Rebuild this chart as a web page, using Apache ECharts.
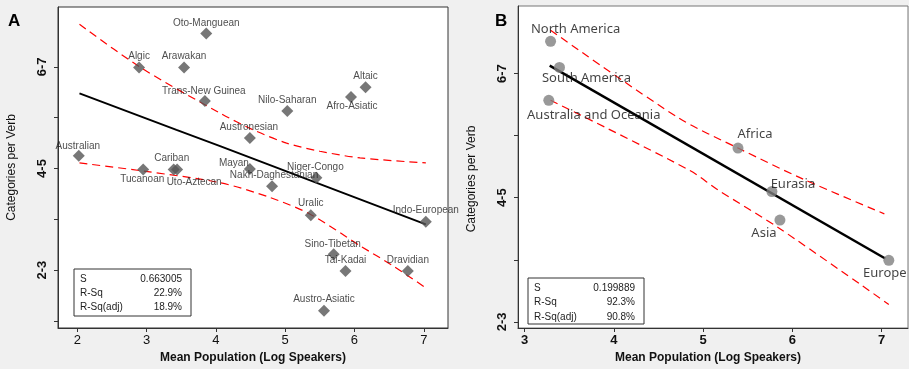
<!DOCTYPE html>
<html>
<head>
<meta charset="utf-8">
<script src="https://cdn.jsdelivr.net/npm/echarts@6/dist/echarts.min.js"></script>
<style>
  html, body { margin: 0; padding: 0; background: #f0f0f0; }
  #chart { width: 909px; height: 369px; }
</style>
</head>
<body>
<div id="chart"></div>
<script>
// panel A: language families
var namesA = ['Oto-Manguean','Algic','Arawakan','Trans-New Guinea','Australian','Tucanoan','Cariban','Uto-Aztecan','Mayan','Nakh-Daghestanian','Niger-Congo','Austronesian','Nilo-Saharan','Afro-Asiatic','Altaic','Uralic','Indo-European','Sino-Tibetan','Tai-Kadai','Dravidian','Austro-Asiatic'];
var popA = [3.86,2.89,3.54,3.84,2.02,2.95,3.39,3.44,4.49,4.81,5.45,4.49,5.03,5.95,6.16,5.37,7.03,5.70,5.87,6.77,5.56];
var catA = [6.66,5.99,5.99,5.33,4.25,3.98,3.98,3.98,3.99,3.65,3.82,4.60,5.13,5.41,5.60,3.08,2.95,2.31,1.98,1.98,1.20];
// label offsets (px) from each point
var offA = [[0,-10],[0,-11],[0,-11],[-1,-10],[-1,-10],[-1,10],[-2,-11],[17,13],[-16,-6],[2,-11],[-1,-10],[-1,-11],[0,-11],[1,9],[0,-11],[0,-12],[0,-12],[-1,-10],[0,-11],[0,-11],[0,-11]];

var fitA = [[2.03,5.48],[3.43,4.76],[4.06,4.44],[7.03,2.90]];
var upperA = [[2.03,6.84],[2.90,6.00],[4.06,5.09],[4.54,4.76],[5.02,4.50],[5.50,4.34],[6.08,4.21],[7.03,4.11]];
var lowerA = [[2.03,4.11],[2.95,3.95],[4.06,3.72],[4.78,3.43],[5.36,3.10],[6.08,2.48],[6.56,2.08],[7.03,1.65]];

// panel B: macro areas
var namesB = ['North America','South America','Australia and Oceania','Africa','Eurasia','Asia','Europe'];
var popB = [3.29,3.39,3.27,5.39,5.77,5.86,7.08];
var catB = [6.52,6.10,5.57,4.80,4.10,3.64,2.99];
var offB = [[25,-12],[27,11],[45,15],[17,-14],[21,-7],[-16,13],[-4,13]];

var fitB = [[3.28,6.13],[7.04,3.02]];
var upperB = [[3.29,6.70],[4.72,5.29],[5.39,4.80],[6.12,4.30],[7.03,3.74]];
var lowerB = [[3.29,5.57],[4.85,4.44],[5.15,4.14],[5.86,3.50],[7.08,2.28]];

var statsA = [['S','0.663005'],['R-Sq','22.9%'],['R-Sq(adj)','18.9%']];
var statsB = [['S','0.199889'],['R-Sq','92.3%'],['R-Sq(adj)','90.8%']];

var xTicksA = [2,3,4,5,6,7];
var xTicksB = [3,4,5,6,7];
var yTicksA = [1,2,3,4,5,6];
var yTicksB = [2,3,4,5,6];
var yLabelVals = [2,4,6];
var yLabelText = {2:'2-3', 4:'4-5', 6:'6-7'};

var xTitle = 'Mean Population (Log Speakers)';
var yTitle = 'Categories per Verb';

function pointsData(xs, ys, names, offs, labelStyle) {
  var out = [];
  for (var i = 0; i < xs.length; i++) {
    out.push({
      name: names[i],
      value: [xs[i], ys[i]],
      label: Object.assign({offset: offs[i]}, labelStyle)
    });
  }
  return out;
}

function statsBox(x, y, w, h, rows, rowH, pad) {
  var els = [{
    type: 'rect',
    shape: {x: x, y: y, width: w, height: h},
    style: {fill: '#fff', stroke: '#333', lineWidth: 1}
  }];
  for (var i = 0; i < rows.length; i++) {
    var cy = y + pad + rowH * i;
    els.push({type: 'text', x: x + 6, y: cy,
      style: {text: rows[i][0], fontSize: 10, fontFamily: 'Liberation Sans', fill: '#222', textVerticalAlign: 'middle'}});
    els.push({type: 'text', x: x + w - 9, y: cy,
      style: {text: rows[i][1], fontSize: 10, fontFamily: 'Liberation Sans', fill: '#222', textAlign: 'right', textVerticalAlign: 'middle'}});
  }
  return els;
}

function xAxisCfg(idx, min, max, ticks, pad, weight) {
  return {
    gridIndex: idx, type: 'value', min: min, max: max,
    axisLine: {onZero: false, lineStyle: {color: '#333', width: 1}},
    axisTick: {customValues: ticks, length: 4, lineStyle: {color: '#333'}},
    axisLabel: {customValues: ticks, fontSize: 13, fontWeight: weight, color: '#111', margin: 6, fontFamily: 'Liberation Sans'},
    splitLine: {show: false},
    name: xTitle, nameLocation: 'middle', nameGap: 24,
    nameTextStyle: {fontWeight: 'bold', fontSize: 12, color: '#111', fontFamily: 'Liberation Sans', padding: pad}
  };
}

function yAxisCfg(idx, min, max, ticks, pad) {
  return {
    gridIndex: idx, type: 'value', min: min, max: max,
    axisLine: {onZero: false, lineStyle: {color: '#333', width: 1}},
    axisTick: {customValues: ticks, length: 4, lineStyle: {color: '#333'}},
    axisLabel: {
      customValues: yLabelVals, rotate: 90, fontSize: 13, fontWeight: 'bold', color: '#111', margin: 9,
      fontFamily: 'Liberation Sans',
      formatter: function (v) { return yLabelText[v] || ''; }
    },
    splitLine: {show: false},
    name: yTitle, nameLocation: 'middle', nameGap: 40,
    nameTextStyle: {fontSize: 12, color: '#111', fontFamily: 'Liberation Sans', padding: pad}
  };
}

var labelA = {show: true, position: 'inside', formatter: '{b}', fontSize: 10, color: '#222', fontFamily: 'Liberation Sans'};
var labelB = {show: true, position: 'inside', formatter: '{b}', fontSize: 13, color: '#111', fontFamily: 'Noto Sans'};

var bandStyle = {color: '#ff0000', width: 1.2, type: [8, 5]};

var option = {
  backgroundColor: '#f0f0f0',
  animation: false,
  grid: [
    {left: 58, top: 7, width: 390, height: 323, show: true, backgroundColor: '#fff', borderColor: '#333', borderWidth: 1},
    {left: 518, top: 6, width: 390, height: 324, show: true, backgroundColor: '#fff', borderColor: '#777', borderWidth: 1}
  ],
  xAxis: [
    xAxisCfg(0, 1.72, 7.35, xTicksA, [0, 0, 0, 0], 'normal'),
    xAxisCfg(1, 2.925, 7.295, xTicksB, [0, 10, 0, 0], 'bold')
  ],
  yAxis: [
    yAxisCfg(0, 0.86, 7.18, yTicksA, [0, 0, 0, 0]),
    yAxisCfg(1, 1.90, 7.09, yTicksB, [0, 24, 0, 0])
  ],
  series: [
    {type: 'line', xAxisIndex: 0, yAxisIndex: 0, data: upperA, smooth: 0.3, showSymbol: false, lineStyle: bandStyle, z: 2},
    {type: 'line', xAxisIndex: 0, yAxisIndex: 0, data: lowerA, smooth: 0.3, showSymbol: false, lineStyle: bandStyle, z: 2},
    {type: 'line', xAxisIndex: 0, yAxisIndex: 0, data: fitA, showSymbol: false, lineStyle: {color: '#000', width: 2}, z: 3},
    {type: 'scatter', xAxisIndex: 0, yAxisIndex: 0, symbol: 'diamond', symbolSize: 12,
      itemStyle: {color: '#555'}, data: pointsData(popA, catA, namesA, offA, labelA), z: 4},
    {type: 'line', xAxisIndex: 1, yAxisIndex: 1, data: upperB, smooth: 0.3, showSymbol: false, lineStyle: bandStyle, z: 2},
    {type: 'line', xAxisIndex: 1, yAxisIndex: 1, data: lowerB, smooth: 0.3, showSymbol: false, lineStyle: bandStyle, z: 2},
    {type: 'line', xAxisIndex: 1, yAxisIndex: 1, data: fitB, showSymbol: false, lineStyle: {color: '#000', width: 2.5}, z: 3},
    {type: 'scatter', xAxisIndex: 1, yAxisIndex: 1, symbol: 'circle', symbolSize: 11,
      itemStyle: {color: '#808080'}, data: pointsData(popB, catB, namesB, offB, labelB), z: 4}
  ],
  graphic: [
    {type: 'text', x: 8, y: 13, style: {text: 'A', fontSize: 17, fontWeight: 'bold', fontFamily: 'Liberation Sans', fill: '#000'}},
    {type: 'text', x: 495, y: 13, style: {text: 'B', fontSize: 17, fontWeight: 'bold', fontFamily: 'Liberation Sans', fill: '#000'}}
  ]
    .concat(statsBox(74, 269, 117, 47, statsA, 14, 10))
    .concat(statsBox(528, 278, 116, 46, statsB, 14.5, 10))
};

var chart = echarts.init(document.getElementById('chart'));
chart.setOption(option);
</script>
</body>
</html>
